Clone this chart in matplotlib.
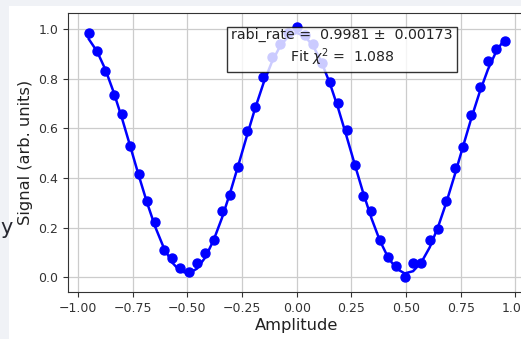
import matplotlib.pyplot as plt
from matplotlib.patches import Rectangle

# amplitudes scanned (51 points)
amplitude = [-0.950, -0.912, -0.874, -0.836, -0.798, -0.760, -0.722, -0.684, -0.646,
             -0.608, -0.570, -0.532, -0.494, -0.456, -0.418, -0.380, -0.342, -0.304,
             -0.266, -0.228, -0.190, -0.152, -0.114, -0.076, -0.038, 0.000,
             0.038, 0.076, 0.114, 0.152, 0.190, 0.228, 0.266, 0.304, 0.342,
             0.380, 0.418, 0.456, 0.494, 0.532, 0.570, 0.608, 0.646, 0.684,
             0.722, 0.760, 0.798, 0.836, 0.874, 0.912, 0.950]

# measured signal
signal = [0.983, 0.913, 0.831, 0.735, 0.656, 0.529, 0.415, 0.306, 0.222,
          0.109, 0.077, 0.036, 0.019, 0.055, 0.096, 0.149, 0.265, 0.333,
          0.445, 0.589, 0.687, 0.808, 0.888, 0.940, 0.983, 1.007,
          0.976, 0.942, 0.864, 0.788, 0.704, 0.595, 0.452, 0.328, 0.267,
          0.149, 0.082, 0.044, 0.001, 0.055, 0.055, 0.149, 0.195, 0.306,
          0.442, 0.523, 0.653, 0.765, 0.871, 0.921, 0.953]

# fitted curve at the same amplitudes
fit = [0.960, 0.910, 0.837, 0.745, 0.640, 0.526, 0.411, 0.301, 0.202,
       0.120, 0.060, 0.024, 0.015, 0.034, 0.079, 0.148, 0.237, 0.340,
       0.453, 0.568, 0.680, 0.781, 0.866, 0.931, 0.971, 0.985,
       0.971, 0.931, 0.866, 0.781, 0.680, 0.568, 0.453, 0.340, 0.237,
       0.148, 0.079, 0.034, 0.015, 0.024, 0.060, 0.120, 0.202, 0.301,
       0.411, 0.526, 0.640, 0.745, 0.837, 0.910, 0.960]

fit_text = "rabi_rate =  0.9981 \u00b1  0.00173\nFit $\\chi^2$ =  1.088"

fig = plt.figure(figsize=(5.21, 3.39), dpi=100, facecolor='#f0f2f6')
# white page area of the screenshot, kept behind the axes
fig.patches.append(Rectangle((9 / 521, 0), 1, (339 - 6) / 339, transform=fig.transFigure,
                             facecolor='white', edgecolor='none', zorder=-10))
fig.text(0.0, 0.31, 'y', fontsize=15, color='#262730', ha='left', va='baseline')

ax = fig.add_axes([0.1305, 0.1386, 0.8778, 0.823])
ax.set_facecolor('white')

ax.plot(amplitude, fit, color='blue', lw=1.8, zorder=2)
ax.scatter(amplitude, signal, color='blue', s=42, zorder=3)

ax.text(0.599, 0.875, fit_text, transform=ax.transAxes, ha='center', va='center',
        fontsize=10.2, color='#222222', zorder=5, linespacing=1.25,
        bbox=dict(boxstyle='square,pad=0.3', facecolor='white', edgecolor='black',
                  alpha=0.8, lw=1))

ax.set_xlim(-1.045, 1.045)
ax.set_ylim(-0.06, 1.065)
ax.set_xticks([-1.0, -0.75, -0.5, -0.25, 0.0, 0.25, 0.5, 0.75, 1.0])
ax.set_yticks([0.0, 0.2, 0.4, 0.6, 0.8, 1.0])
ax.tick_params(labelsize=9, labelcolor='#333333', color='#333333')
ax.set_xlabel('Amplitude', fontsize=11.7, color='#222222', labelpad=2)
ax.set_ylabel('Signal (arb. units)', fontsize=11.7, color='#222222', labelpad=4)
ax.grid(True, color='#cccccc', lw=0.9)
ax.set_axisbelow(True)
for s in ax.spines.values():
    s.set_color('#333333')

fig.savefig('out.png', dpi=100, facecolor=fig.get_facecolor())
